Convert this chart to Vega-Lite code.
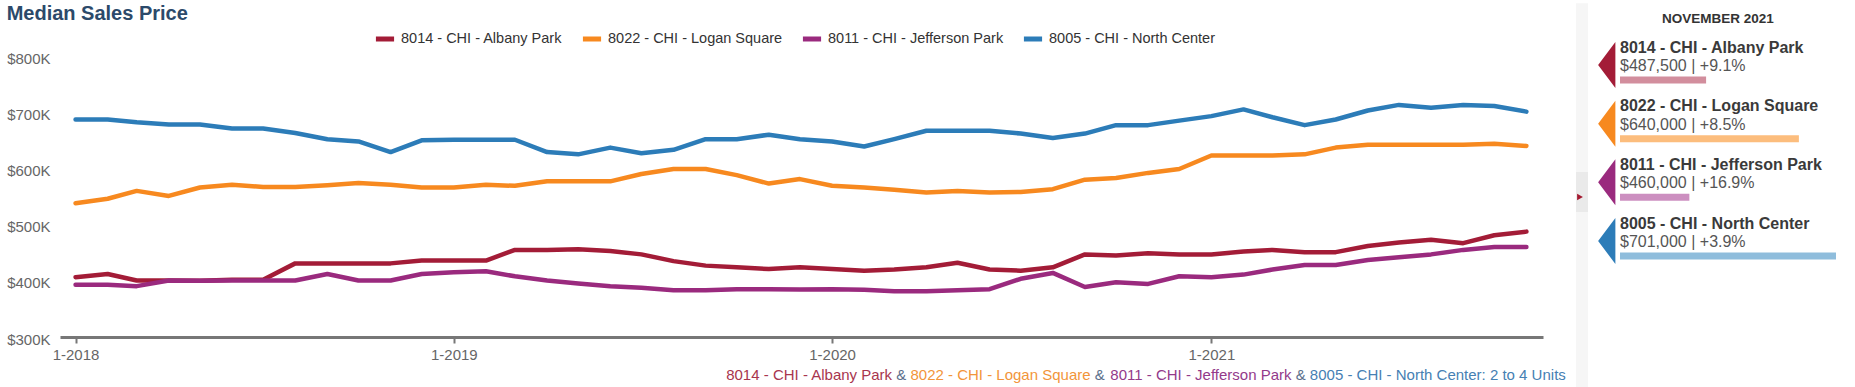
{
  "$schema": "https://vega.github.io/schema/vega-lite/v6.json",
  "autosize": {"type": "none"},
  "padding": {"left": 60, "top": 56, "right": 312, "bottom": 50},
  "width": 1483,
  "height": 281,
  "background": "white",
  "config": {"font": "Liberation Sans", "view": {"stroke": null}},
  "title": {"text": "Median Sales Price", "anchor": "start", "frame": "bounds", "fontSize": 20, "fontWeight": "bold", "color": "#2c4a6a", "offset": -21},
  "datasets": {
    "sales": [
      {"date": "2018/01/01", "series": "8014 - CHI - Albany Park", "price": 406500},
      {"date": "2018/02/01", "series": "8014 - CHI - Albany Park", "price": 412000},
      {"date": "2018/03/01", "series": "8014 - CHI - Albany Park", "price": 400500},
      {"date": "2018/04/01", "series": "8014 - CHI - Albany Park", "price": 400500},
      {"date": "2018/05/01", "series": "8014 - CHI - Albany Park", "price": 400000},
      {"date": "2018/06/01", "series": "8014 - CHI - Albany Park", "price": 402000},
      {"date": "2018/07/01", "series": "8014 - CHI - Albany Park", "price": 402000},
      {"date": "2018/08/01", "series": "8014 - CHI - Albany Park", "price": 431000},
      {"date": "2018/09/01", "series": "8014 - CHI - Albany Park", "price": 431000},
      {"date": "2018/10/01", "series": "8014 - CHI - Albany Park", "price": 431000},
      {"date": "2018/11/01", "series": "8014 - CHI - Albany Park", "price": 431000},
      {"date": "2018/12/01", "series": "8014 - CHI - Albany Park", "price": 436000},
      {"date": "2019/01/01", "series": "8014 - CHI - Albany Park", "price": 436000},
      {"date": "2019/02/01", "series": "8014 - CHI - Albany Park", "price": 436000},
      {"date": "2019/03/01", "series": "8014 - CHI - Albany Park", "price": 455000},
      {"date": "2019/04/01", "series": "8014 - CHI - Albany Park", "price": 455000},
      {"date": "2019/05/01", "series": "8014 - CHI - Albany Park", "price": 456000},
      {"date": "2019/06/01", "series": "8014 - CHI - Albany Park", "price": 453000},
      {"date": "2019/07/01", "series": "8014 - CHI - Albany Park", "price": 447000},
      {"date": "2019/08/01", "series": "8014 - CHI - Albany Park", "price": 435000},
      {"date": "2019/09/01", "series": "8014 - CHI - Albany Park", "price": 427000},
      {"date": "2019/10/01", "series": "8014 - CHI - Albany Park", "price": 424000},
      {"date": "2019/11/01", "series": "8014 - CHI - Albany Park", "price": 421000},
      {"date": "2019/12/01", "series": "8014 - CHI - Albany Park", "price": 424000},
      {"date": "2020/01/01", "series": "8014 - CHI - Albany Park", "price": 421000},
      {"date": "2020/02/01", "series": "8014 - CHI - Albany Park", "price": 418000},
      {"date": "2020/03/01", "series": "8014 - CHI - Albany Park", "price": 420000},
      {"date": "2020/04/01", "series": "8014 - CHI - Albany Park", "price": 424000},
      {"date": "2020/05/01", "series": "8014 - CHI - Albany Park", "price": 432000},
      {"date": "2020/06/01", "series": "8014 - CHI - Albany Park", "price": 420000},
      {"date": "2020/07/01", "series": "8014 - CHI - Albany Park", "price": 418000},
      {"date": "2020/08/01", "series": "8014 - CHI - Albany Park", "price": 424000},
      {"date": "2020/09/01", "series": "8014 - CHI - Albany Park", "price": 447000},
      {"date": "2020/10/01", "series": "8014 - CHI - Albany Park", "price": 445000},
      {"date": "2020/11/01", "series": "8014 - CHI - Albany Park", "price": 449000},
      {"date": "2020/12/01", "series": "8014 - CHI - Albany Park", "price": 447000},
      {"date": "2021/01/01", "series": "8014 - CHI - Albany Park", "price": 447000},
      {"date": "2021/02/01", "series": "8014 - CHI - Albany Park", "price": 452000},
      {"date": "2021/03/01", "series": "8014 - CHI - Albany Park", "price": 455000},
      {"date": "2021/04/01", "series": "8014 - CHI - Albany Park", "price": 451000},
      {"date": "2021/05/01", "series": "8014 - CHI - Albany Park", "price": 451000},
      {"date": "2021/06/01", "series": "8014 - CHI - Albany Park", "price": 462000},
      {"date": "2021/07/01", "series": "8014 - CHI - Albany Park", "price": 468000},
      {"date": "2021/08/01", "series": "8014 - CHI - Albany Park", "price": 473000},
      {"date": "2021/09/01", "series": "8014 - CHI - Albany Park", "price": 467000},
      {"date": "2021/10/01", "series": "8014 - CHI - Albany Park", "price": 481000},
      {"date": "2021/11/01", "series": "8014 - CHI - Albany Park", "price": 487500},
      {"date": "2018/01/01", "series": "8022 - CHI - Logan Square", "price": 538000},
      {"date": "2018/02/01", "series": "8022 - CHI - Logan Square", "price": 546000},
      {"date": "2018/03/01", "series": "8022 - CHI - Logan Square", "price": 560000},
      {"date": "2018/04/01", "series": "8022 - CHI - Logan Square", "price": 551000},
      {"date": "2018/05/01", "series": "8022 - CHI - Logan Square", "price": 566000},
      {"date": "2018/06/01", "series": "8022 - CHI - Logan Square", "price": 571000},
      {"date": "2018/07/01", "series": "8022 - CHI - Logan Square", "price": 567000},
      {"date": "2018/08/01", "series": "8022 - CHI - Logan Square", "price": 567000},
      {"date": "2018/09/01", "series": "8022 - CHI - Logan Square", "price": 570000},
      {"date": "2018/10/01", "series": "8022 - CHI - Logan Square", "price": 574000},
      {"date": "2018/11/01", "series": "8022 - CHI - Logan Square", "price": 571000},
      {"date": "2018/12/01", "series": "8022 - CHI - Logan Square", "price": 566000},
      {"date": "2019/01/01", "series": "8022 - CHI - Logan Square", "price": 566000},
      {"date": "2019/02/01", "series": "8022 - CHI - Logan Square", "price": 571000},
      {"date": "2019/03/01", "series": "8022 - CHI - Logan Square", "price": 569000},
      {"date": "2019/04/01", "series": "8022 - CHI - Logan Square", "price": 577000},
      {"date": "2019/05/01", "series": "8022 - CHI - Logan Square", "price": 577000},
      {"date": "2019/06/01", "series": "8022 - CHI - Logan Square", "price": 577000},
      {"date": "2019/07/01", "series": "8022 - CHI - Logan Square", "price": 590000},
      {"date": "2019/08/01", "series": "8022 - CHI - Logan Square", "price": 599000},
      {"date": "2019/09/01", "series": "8022 - CHI - Logan Square", "price": 599000},
      {"date": "2019/10/01", "series": "8022 - CHI - Logan Square", "price": 588000},
      {"date": "2019/11/01", "series": "8022 - CHI - Logan Square", "price": 573000},
      {"date": "2019/12/01", "series": "8022 - CHI - Logan Square", "price": 581000},
      {"date": "2020/01/01", "series": "8022 - CHI - Logan Square", "price": 569000},
      {"date": "2020/02/01", "series": "8022 - CHI - Logan Square", "price": 566000},
      {"date": "2020/03/01", "series": "8022 - CHI - Logan Square", "price": 562000},
      {"date": "2020/04/01", "series": "8022 - CHI - Logan Square", "price": 557000},
      {"date": "2020/05/01", "series": "8022 - CHI - Logan Square", "price": 560000},
      {"date": "2020/06/01", "series": "8022 - CHI - Logan Square", "price": 557000},
      {"date": "2020/07/01", "series": "8022 - CHI - Logan Square", "price": 558000},
      {"date": "2020/08/01", "series": "8022 - CHI - Logan Square", "price": 563000},
      {"date": "2020/09/01", "series": "8022 - CHI - Logan Square", "price": 580000},
      {"date": "2020/10/01", "series": "8022 - CHI - Logan Square", "price": 583000},
      {"date": "2020/11/01", "series": "8022 - CHI - Logan Square", "price": 592000},
      {"date": "2020/12/01", "series": "8022 - CHI - Logan Square", "price": 599000},
      {"date": "2021/01/01", "series": "8022 - CHI - Logan Square", "price": 623000},
      {"date": "2021/02/01", "series": "8022 - CHI - Logan Square", "price": 623000},
      {"date": "2021/03/01", "series": "8022 - CHI - Logan Square", "price": 623000},
      {"date": "2021/04/01", "series": "8022 - CHI - Logan Square", "price": 625000},
      {"date": "2021/05/01", "series": "8022 - CHI - Logan Square", "price": 637000},
      {"date": "2021/06/01", "series": "8022 - CHI - Logan Square", "price": 642000},
      {"date": "2021/07/01", "series": "8022 - CHI - Logan Square", "price": 642000},
      {"date": "2021/08/01", "series": "8022 - CHI - Logan Square", "price": 642000},
      {"date": "2021/09/01", "series": "8022 - CHI - Logan Square", "price": 642000},
      {"date": "2021/10/01", "series": "8022 - CHI - Logan Square", "price": 644000},
      {"date": "2021/11/01", "series": "8022 - CHI - Logan Square", "price": 640000},
      {"date": "2018/01/01", "series": "8011 - CHI - Jefferson Park", "price": 393000},
      {"date": "2018/02/01", "series": "8011 - CHI - Jefferson Park", "price": 393000},
      {"date": "2018/03/01", "series": "8011 - CHI - Jefferson Park", "price": 390500},
      {"date": "2018/04/01", "series": "8011 - CHI - Jefferson Park", "price": 400500},
      {"date": "2018/05/01", "series": "8011 - CHI - Jefferson Park", "price": 400000},
      {"date": "2018/06/01", "series": "8011 - CHI - Jefferson Park", "price": 400500},
      {"date": "2018/07/01", "series": "8011 - CHI - Jefferson Park", "price": 400500},
      {"date": "2018/08/01", "series": "8011 - CHI - Jefferson Park", "price": 400500},
      {"date": "2018/09/01", "series": "8011 - CHI - Jefferson Park", "price": 412000},
      {"date": "2018/10/01", "series": "8011 - CHI - Jefferson Park", "price": 400500},
      {"date": "2018/11/01", "series": "8011 - CHI - Jefferson Park", "price": 400500},
      {"date": "2018/12/01", "series": "8011 - CHI - Jefferson Park", "price": 412000},
      {"date": "2019/01/01", "series": "8011 - CHI - Jefferson Park", "price": 415000},
      {"date": "2019/02/01", "series": "8011 - CHI - Jefferson Park", "price": 417000},
      {"date": "2019/03/01", "series": "8011 - CHI - Jefferson Park", "price": 408000},
      {"date": "2019/04/01", "series": "8011 - CHI - Jefferson Park", "price": 400500},
      {"date": "2019/05/01", "series": "8011 - CHI - Jefferson Park", "price": 395000},
      {"date": "2019/06/01", "series": "8011 - CHI - Jefferson Park", "price": 390500},
      {"date": "2019/07/01", "series": "8011 - CHI - Jefferson Park", "price": 387500},
      {"date": "2019/08/01", "series": "8011 - CHI - Jefferson Park", "price": 383000},
      {"date": "2019/09/01", "series": "8011 - CHI - Jefferson Park", "price": 383000},
      {"date": "2019/10/01", "series": "8011 - CHI - Jefferson Park", "price": 385000},
      {"date": "2019/11/01", "series": "8011 - CHI - Jefferson Park", "price": 385000},
      {"date": "2019/12/01", "series": "8011 - CHI - Jefferson Park", "price": 384500},
      {"date": "2020/01/01", "series": "8011 - CHI - Jefferson Park", "price": 385000},
      {"date": "2020/02/01", "series": "8011 - CHI - Jefferson Park", "price": 384000},
      {"date": "2020/03/01", "series": "8011 - CHI - Jefferson Park", "price": 381500},
      {"date": "2020/04/01", "series": "8011 - CHI - Jefferson Park", "price": 381500},
      {"date": "2020/05/01", "series": "8011 - CHI - Jefferson Park", "price": 383000},
      {"date": "2020/06/01", "series": "8011 - CHI - Jefferson Park", "price": 385000},
      {"date": "2020/07/01", "series": "8011 - CHI - Jefferson Park", "price": 403500},
      {"date": "2020/08/01", "series": "8011 - CHI - Jefferson Park", "price": 414000},
      {"date": "2020/09/01", "series": "8011 - CHI - Jefferson Park", "price": 389000},
      {"date": "2020/10/01", "series": "8011 - CHI - Jefferson Park", "price": 397500},
      {"date": "2020/11/01", "series": "8011 - CHI - Jefferson Park", "price": 394500},
      {"date": "2020/12/01", "series": "8011 - CHI - Jefferson Park", "price": 408000},
      {"date": "2021/01/01", "series": "8011 - CHI - Jefferson Park", "price": 406500},
      {"date": "2021/02/01", "series": "8011 - CHI - Jefferson Park", "price": 411000},
      {"date": "2021/03/01", "series": "8011 - CHI - Jefferson Park", "price": 420000},
      {"date": "2021/04/01", "series": "8011 - CHI - Jefferson Park", "price": 428000},
      {"date": "2021/05/01", "series": "8011 - CHI - Jefferson Park", "price": 428000},
      {"date": "2021/06/01", "series": "8011 - CHI - Jefferson Park", "price": 437000},
      {"date": "2021/07/01", "series": "8011 - CHI - Jefferson Park", "price": 442000},
      {"date": "2021/08/01", "series": "8011 - CHI - Jefferson Park", "price": 447000},
      {"date": "2021/09/01", "series": "8011 - CHI - Jefferson Park", "price": 455000},
      {"date": "2021/10/01", "series": "8011 - CHI - Jefferson Park", "price": 460000},
      {"date": "2021/11/01", "series": "8011 - CHI - Jefferson Park", "price": 460000},
      {"date": "2018/01/01", "series": "8005 - CHI - North Center", "price": 687000},
      {"date": "2018/02/01", "series": "8005 - CHI - North Center", "price": 687000},
      {"date": "2018/03/01", "series": "8005 - CHI - North Center", "price": 682000},
      {"date": "2018/04/01", "series": "8005 - CHI - North Center", "price": 678000},
      {"date": "2018/05/01", "series": "8005 - CHI - North Center", "price": 678000},
      {"date": "2018/06/01", "series": "8005 - CHI - North Center", "price": 671000},
      {"date": "2018/07/01", "series": "8005 - CHI - North Center", "price": 671000},
      {"date": "2018/08/01", "series": "8005 - CHI - North Center", "price": 663000},
      {"date": "2018/09/01", "series": "8005 - CHI - North Center", "price": 652000},
      {"date": "2018/10/01", "series": "8005 - CHI - North Center", "price": 648000},
      {"date": "2018/11/01", "series": "8005 - CHI - North Center", "price": 629000},
      {"date": "2018/12/01", "series": "8005 - CHI - North Center", "price": 650000},
      {"date": "2019/01/01", "series": "8005 - CHI - North Center", "price": 651000},
      {"date": "2019/02/01", "series": "8005 - CHI - North Center", "price": 651000},
      {"date": "2019/03/01", "series": "8005 - CHI - North Center", "price": 651000},
      {"date": "2019/04/01", "series": "8005 - CHI - North Center", "price": 629000},
      {"date": "2019/05/01", "series": "8005 - CHI - North Center", "price": 625000},
      {"date": "2019/06/01", "series": "8005 - CHI - North Center", "price": 637000},
      {"date": "2019/07/01", "series": "8005 - CHI - North Center", "price": 627000},
      {"date": "2019/08/01", "series": "8005 - CHI - North Center", "price": 633000},
      {"date": "2019/09/01", "series": "8005 - CHI - North Center", "price": 652000},
      {"date": "2019/10/01", "series": "8005 - CHI - North Center", "price": 652000},
      {"date": "2019/11/01", "series": "8005 - CHI - North Center", "price": 660000},
      {"date": "2019/12/01", "series": "8005 - CHI - North Center", "price": 652000},
      {"date": "2020/01/01", "series": "8005 - CHI - North Center", "price": 648000},
      {"date": "2020/02/01", "series": "8005 - CHI - North Center", "price": 639000},
      {"date": "2020/03/01", "series": "8005 - CHI - North Center", "price": 652000},
      {"date": "2020/04/01", "series": "8005 - CHI - North Center", "price": 667000},
      {"date": "2020/05/01", "series": "8005 - CHI - North Center", "price": 667000},
      {"date": "2020/06/01", "series": "8005 - CHI - North Center", "price": 667000},
      {"date": "2020/07/01", "series": "8005 - CHI - North Center", "price": 662000},
      {"date": "2020/08/01", "series": "8005 - CHI - North Center", "price": 654000},
      {"date": "2020/09/01", "series": "8005 - CHI - North Center", "price": 662000},
      {"date": "2020/10/01", "series": "8005 - CHI - North Center", "price": 677000},
      {"date": "2020/11/01", "series": "8005 - CHI - North Center", "price": 677000},
      {"date": "2020/12/01", "series": "8005 - CHI - North Center", "price": 685000},
      {"date": "2021/01/01", "series": "8005 - CHI - North Center", "price": 693000},
      {"date": "2021/02/01", "series": "8005 - CHI - North Center", "price": 705000},
      {"date": "2021/03/01", "series": "8005 - CHI - North Center", "price": 691000},
      {"date": "2021/04/01", "series": "8005 - CHI - North Center", "price": 677000},
      {"date": "2021/05/01", "series": "8005 - CHI - North Center", "price": 687000},
      {"date": "2021/06/01", "series": "8005 - CHI - North Center", "price": 703000},
      {"date": "2021/07/01", "series": "8005 - CHI - North Center", "price": 713000},
      {"date": "2021/08/01", "series": "8005 - CHI - North Center", "price": 708000},
      {"date": "2021/09/01", "series": "8005 - CHI - North Center", "price": 713000},
      {"date": "2021/10/01", "series": "8005 - CHI - North Center", "price": 711000},
      {"date": "2021/11/01", "series": "8005 - CHI - North Center", "price": 701000}
    ],
    "latest": [
      {"series": "8014 - CHI - Albany Park", "value": 487500, "label": "$487,500 | +9.1%"},
      {"series": "8022 - CHI - Logan Square", "value": 640000, "label": "$640,000 | +8.5%"},
      {"series": "8011 - CHI - Jefferson Park", "value": 460000, "label": "$460,000 | +16.9%"},
      {"series": "8005 - CHI - North Center", "value": 701000, "label": "$701,000 | +3.9%"}
    ],
    "period": [{"month": "NOVEMBER 2021"}]
  },
  "layer": [
    {
      "layer": [
        {
          "data": {"values": [{"part": "sidebar"}]},
          "mark": {"type": "rect", "color": "#f6f6f6"},
          "encoding": {
            "x": {"datum": {"year": 2021, "month": 12, "date": 18, "hours": 21}, "type": "temporal"},
            "x2": {"datum": {"year": 2021, "month": 12, "date": 30, "hours": 10}},
            "y": {"datum": 894000, "type": "quantitative"},
            "y2": {"datum": 200000}
          }
        },
        {
          "data": {"values": [{"part": "handle"}]},
          "mark": {"type": "rect", "color": "#eaeaea"},
          "encoding": {
            "x": {"datum": {"year": 2021, "month": 12, "date": 18, "hours": 21}, "type": "temporal"},
            "x2": {"datum": {"year": 2021, "month": 12, "date": 30, "hours": 10}},
            "y": {"datum": 593600, "type": "quantitative"},
            "y2": {"datum": 522400}
          }
        },
        {
          "data": {"values": [{"part": "arrow"}]},
          "mark": {"type": "point", "shape": "triangle-right", "filled": true, "size": 45, "color": "#a3192f", "opacity": 1},
          "encoding": {
            "x": {"datum": {"year": 2021, "month": 12, "date": 22, "hours": 17}, "type": "temporal"},
            "y": {"datum": 549100, "type": "quantitative"}
          }
        },
        {
          "data": {"name": "sales"},
          "mark": {"type": "line", "strokeWidth": 4.5, "strokeCap": "round", "strokeJoin": "round"},
          "encoding": {
            "x": {
              "field": "date", "type": "temporal",
              "scale": {"domain": [{"year": 2017, "month": 12, "date": 17}, {"year": 2021, "month": 11, "date": 17}]},
              "axis": {"title": null, "format": "%-m-%Y", "tickCount": {"interval": "year", "step": 1}, "grid": false, "domainColor": "#777777", "domainWidth": 3, "tickColor": "#777777", "tickWidth": 2, "tickSize": 6, "labelFontSize": 15, "labelColor": "#666666", "labelPadding": 4, "labelFlush": false}
            },
            "y": {
              "field": "price", "type": "quantitative",
              "scale": {"domain": [300000, 800000], "nice": false, "zero": false},
              "axis": {"title": null, "values": [300000, 400000, 500000, 600000, 700000, 800000], "labelExpr": "'$' + format(datum.value / 1000, 'd') + 'K'", "domain": false, "ticks": false, "gridColor": "#cccccc", "gridWidth": 1.5, "labelFontSize": 15, "labelColor": "#666666", "labelPadding": 10, "labelOffset": 2}
            },
            "color": {
              "field": "series", "type": "nominal",
              "scale": {"domain": ["8014 - CHI - Albany Park", "8022 - CHI - Logan Square", "8011 - CHI - Jefferson Park", "8005 - CHI - North Center"], "range": ["#a31c37", "#f7891f", "#9a2a7e", "#2c7cb8"]},
              "legend": {"orient": "none", "legendX": 313, "legendY": -29, "direction": "horizontal", "title": null, "symbolType": "stroke", "symbolStrokeWidth": 5, "symbolSize": 330, "labelFontSize": 14.5, "labelColor": "#333333", "labelOffset": 4, "labelLimit": 0, "columnPadding": 9, "gridAlign": "none"}
            }
          }
        },
        {
          "data": {"values": [{"segment": "8014 - CHI - Albany Park"}]},
          "mark": {"type": "text", "align": "right", "baseline": "middle", "fontSize": 15, "color": "#a8354e", "dx": -673.7},
          "encoding": {"x": {"datum": {"year": 2021, "month": 12, "date": 9}, "type": "temporal"}, "y": {"datum": 232400, "type": "quantitative"}, "text": {"field": "segment"}}
        },
        {
          "data": {"values": [{"segment": "&"}]},
          "mark": {"type": "text", "align": "right", "baseline": "middle", "fontSize": 15, "color": "#5b6f8c", "dx": -659.5},
          "encoding": {"x": {"datum": {"year": 2021, "month": 12, "date": 9}, "type": "temporal"}, "y": {"datum": 232400, "type": "quantitative"}, "text": {"field": "segment"}}
        },
        {
          "data": {"values": [{"segment": "8022 - CHI - Logan Square"}]},
          "mark": {"type": "text", "align": "right", "baseline": "middle", "fontSize": 15, "color": "#f2953a", "dx": -475.2},
          "encoding": {"x": {"datum": {"year": 2021, "month": 12, "date": 9}, "type": "temporal"}, "y": {"datum": 232400, "type": "quantitative"}, "text": {"field": "segment"}}
        },
        {
          "data": {"values": [{"segment": "&"}]},
          "mark": {"type": "text", "align": "right", "baseline": "middle", "fontSize": 15, "color": "#5b6f8c", "dx": -461.0},
          "encoding": {"x": {"datum": {"year": 2021, "month": 12, "date": 9}, "type": "temporal"}, "y": {"datum": 232400, "type": "quantitative"}, "text": {"field": "segment"}}
        },
        {
          "data": {"values": [{"segment": "8011 - CHI - Jefferson Park"}]},
          "mark": {"type": "text", "align": "right", "baseline": "middle", "fontSize": 15, "color": "#933a8a", "dx": -274.3},
          "encoding": {"x": {"datum": {"year": 2021, "month": 12, "date": 9}, "type": "temporal"}, "y": {"datum": 232400, "type": "quantitative"}, "text": {"field": "segment"}}
        },
        {
          "data": {"values": [{"segment": "&"}]},
          "mark": {"type": "text", "align": "right", "baseline": "middle", "fontSize": 15, "color": "#5b6f8c", "dx": -260.1},
          "encoding": {"x": {"datum": {"year": 2021, "month": 12, "date": 9}, "type": "temporal"}, "y": {"datum": 232400, "type": "quantitative"}, "text": {"field": "segment"}}
        },
        {
          "data": {"values": [{"segment": "8005 - CHI - North Center: 2 to 4 Units"}]},
          "mark": {"type": "text", "align": "right", "baseline": "middle", "fontSize": 15, "color": "#4680b3", "dx": 0},
          "encoding": {"x": {"datum": {"year": 2021, "month": 12, "date": 9}, "type": "temporal"}, "y": {"datum": 232400, "type": "quantitative"}, "text": {"field": "segment"}}
        }
      ]
    },
    {
      "layer": [
        {
          "data": {"name": "period"},
          "mark": {"type": "text", "align": "center", "baseline": "middle", "fontSize": 13.5, "fontWeight": "bold", "color": "#333333", "dy": -46},
          "encoding": {
            "x": {"datum": 507000, "type": "quantitative", "scale": {"domain": [346000, 701000], "range": [1560, 1776], "zero": false, "nice": false}, "axis": null},
            "y": {"datum": "8014 - CHI - Albany Park", "type": "nominal", "scale": {"type": "point", "domain": ["8014 - CHI - Albany Park", "8022 - CHI - Logan Square", "8011 - CHI - Jefferson Park", "8005 - CHI - North Center"], "range": [9, 185], "padding": 0}, "axis": null},
            "text": {"field": "month"}
          }
        },
        {
          "data": {"name": "latest"},
          "mark": {"type": "point", "shape": "M-0.2,-1L-0.2,1L-0.95,0Z", "filled": true, "size": 2116, "opacity": 1, "strokeWidth": 0},
          "encoding": {
            "x": {"datum": 346000, "type": "quantitative", "scale": {"domain": [346000, 701000], "range": [1560, 1776], "zero": false, "nice": false}, "axis": null},
            "y": {"field": "series", "type": "nominal", "scale": {"type": "point", "domain": ["8014 - CHI - Albany Park", "8022 - CHI - Logan Square", "8011 - CHI - Jefferson Park", "8005 - CHI - North Center"], "range": [9, 185], "padding": 0}, "axis": null},
            "fill": {"field": "series", "type": "nominal", "scale": {"domain": ["8014 - CHI - Albany Park", "8022 - CHI - Logan Square", "8011 - CHI - Jefferson Park", "8005 - CHI - North Center"], "range": ["#a31c37", "#f7891f", "#9a2a7e", "#2c7cb8"]}, "legend": null}
          }
        },
        {
          "data": {"name": "latest"},
          "mark": {"type": "text", "align": "left", "baseline": "middle", "fontSize": 16, "fontWeight": "bold", "color": "#3a3a3a", "dy": -17.5},
          "encoding": {
            "x": {"datum": 346000, "type": "quantitative", "scale": {"domain": [346000, 701000], "range": [1560, 1776], "zero": false, "nice": false}, "axis": null},
            "y": {"field": "series", "type": "nominal", "scale": {"type": "point", "domain": ["8014 - CHI - Albany Park", "8022 - CHI - Logan Square", "8011 - CHI - Jefferson Park", "8005 - CHI - North Center"], "range": [9, 185], "padding": 0}, "axis": null},
            "text": {"field": "series"}
          }
        },
        {
          "data": {"name": "latest"},
          "mark": {"type": "text", "align": "left", "baseline": "middle", "fontSize": 16, "color": "#555555", "dy": 1},
          "encoding": {
            "x": {"datum": 346000, "type": "quantitative", "scale": {"domain": [346000, 701000], "range": [1560, 1776], "zero": false, "nice": false}, "axis": null},
            "y": {"field": "series", "type": "nominal", "scale": {"type": "point", "domain": ["8014 - CHI - Albany Park", "8022 - CHI - Logan Square", "8011 - CHI - Jefferson Park", "8005 - CHI - North Center"], "range": [9, 185], "padding": 0}, "axis": null},
            "text": {"field": "label"}
          }
        },
        {
          "data": {"name": "latest"},
          "mark": {"type": "bar", "height": 7, "yOffset": 15},
          "encoding": {
            "x": {"field": "value", "type": "quantitative", "scale": {"domain": [346000, 701000], "range": [1560, 1776], "zero": false, "nice": false}, "axis": null},
            "x2": {"datum": 346000},
            "y": {"field": "series", "type": "nominal", "scale": {"type": "point", "domain": ["8014 - CHI - Albany Park", "8022 - CHI - Logan Square", "8011 - CHI - Jefferson Park", "8005 - CHI - North Center"], "range": [9, 185], "padding": 0}, "axis": null},
            "color": {"field": "series", "type": "nominal", "scale": {"domain": ["8014 - CHI - Albany Park", "8022 - CHI - Logan Square", "8011 - CHI - Jefferson Park", "8005 - CHI - North Center"], "range": ["#d28e9d", "#fcbd7d", "#cc8fc0", "#8fbddc"]}, "legend": null}
          }
        }
      ]
    }
  ],
  "resolve": {
    "scale": {"x": "independent", "y": "independent", "color": "independent"},
    "axis": {"x": "independent", "y": "independent"},
    "legend": {"color": "independent"}
  }
}
